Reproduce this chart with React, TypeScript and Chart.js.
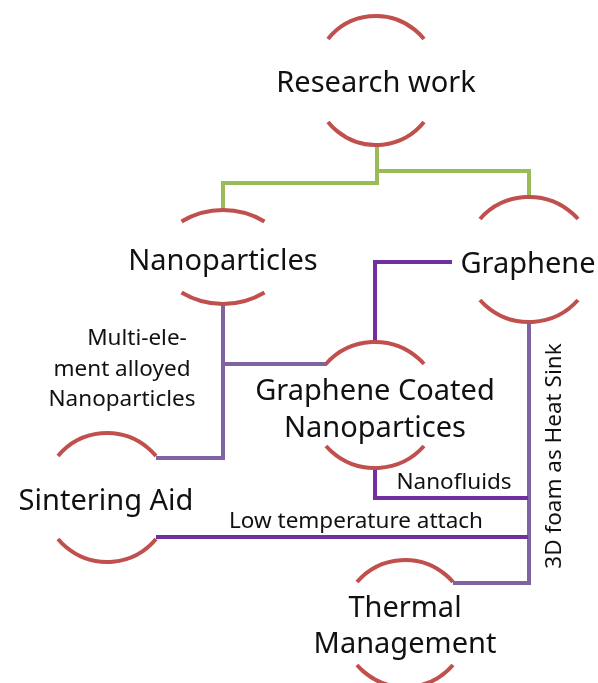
import React, { useEffect, useRef } from "react";
import { Chart, registerables } from "chart.js";

Chart.register(...registerables);

// Node data (diagram coordinates, same units as the axes)
const nodeLines: string[][] = [
  ["Research work"],
  ["Nanoparticles"],
  ["Graphene"],
  ["Graphene Coated", "Nanopartices"],
  ["Sintering Aid"],
  ["Thermal", "Management"],
];
const nodeX = [376, 223, 529, 375, 107, 405];
const nodeTextX = [376, 223, 528, 375, 106, 405];
const nodeTextY: number[][] = [[84], [262], [265], [392, 429], [502], [609, 645]];
const arcTopY = [16, 210, 197, 342, 433, 560];
const arcBottomY = [145, 304, 322, 468, 562, 687];
const arcHalfWidth = [48, 41.5, 49, 49, 49, 48];
const arcSag = [23, 11.5, 22, 22, 23, 22];

// Connectors
const greenLinks: number[][][] = [
  [[377, 145], [377, 183], [223, 183], [223, 210]],
  [[377, 171], [529, 171], [529, 197]],
];
const darkPurpleLinks: number[][][] = [
  [[452, 262], [375, 262], [375, 342]],
  [[375, 468], [375, 498], [528, 498]],
  [[156, 537], [528, 537]],
];
const lightPurpleLinks: number[][][] = [
  [[223, 304], [223, 458], [156, 458]],
  [[223, 364], [327, 364]],
  [[529, 322], [529, 583], [453, 583]],
];

// Edge labels
const edgeLabels = ["Multi-ele-", "ment alloyed", "Nanoparticles", "Nanofluids", "Low temperature attach", "3D foam as Heat Sink"];
const edgeLabelX = [137, 122, 122, 454, 356, 555];
const edgeLabelY = [339, 370, 400, 483, 522, 456];
const edgeLabelRotation = [0, 0, 0, 0, 0, -90];

const FONT = "'Noto Sans', 'DejaVu Sans', sans-serif";

export default function App() {
  const ref = useRef<HTMLCanvasElement | null>(null);
  useEffect(() => {
    if (!ref.current) return;
    const mk = (links: number[][][], color: string) =>
      links.map((pts) => ({
        type: "scatter" as const,
        data: pts.map(([x, y]) => ({ x, y })),
        showLine: true,
        borderColor: color,
        backgroundColor: color,
        borderWidth: 4,
        pointRadius: 0,
        borderJoinStyle: "miter" as const,
        borderCapStyle: "butt" as const,
        tension: 0,
      }));

    const diagramPlugin = {
      id: "diagram",
      afterDatasetsDraw(chart: any) {
        const ctx = chart.ctx as CanvasRenderingContext2D;
        const xs = chart.scales.x;
        const ys = chart.scales.y;
        const px = (v: number) => xs.getPixelForValue(v);
        const py = (v: number) => ys.getPixelForValue(v);
        ctx.save();
        // arcs
        ctx.strokeStyle = "#C0504D";
        ctx.lineWidth = 4;
        ctx.lineCap = "butt";
        for (let i = 0; i < nodeX.length; i++) {
          const cx = px(nodeX[i]);
          const c = Math.abs(px(nodeX[i] + arcHalfWidth[i]) - cx);
          const topY = py(arcTopY[i]);
          const botY = py(arcBottomY[i]);
          const s = Math.abs(py(arcTopY[i] + arcSag[i]) - topY);
          const r = (c * c + s * s) / (2 * s);
          const th = Math.asin(Math.min(1, c / r));
          ctx.beginPath();
          ctx.arc(cx, topY + r, r, -Math.PI / 2 - th, -Math.PI / 2 + th);
          ctx.stroke();
          ctx.beginPath();
          ctx.arc(cx, botY - r, r, Math.PI / 2 - th, Math.PI / 2 + th);
          ctx.stroke();
        }
        // node labels
        ctx.fillStyle = "#111111";
        ctx.textAlign = "center";
        ctx.textBaseline = "middle";
        ctx.font = `29px ${FONT}`;
        for (let i = 0; i < nodeLines.length; i++) {
          nodeLines[i].forEach((line, j) => {
            ctx.fillText(line, px(nodeTextX[i]), py(nodeTextY[i][j]));
          });
        }
        // edge labels
        ctx.font = `22.5px ${FONT}`;
        for (let i = 0; i < edgeLabels.length; i++) {
          ctx.save();
          ctx.translate(px(edgeLabelX[i]), py(edgeLabelY[i]));
          ctx.rotate((edgeLabelRotation[i] * Math.PI) / 180);
          ctx.fillText(edgeLabels[i], 0, 0);
          ctx.restore();
        }
        ctx.restore();
      },
    };

    const chart = new Chart(ref.current, {
      type: "scatter",
      data: {
        datasets: [
          ...mk(greenLinks, "#9BBB59"),
          ...mk(darkPurpleLinks, "#7030A0"),
          ...mk(lightPurpleLinks, "#8064A2"),
        ] as any,
      },
      options: {
        animation: false,
        responsive: false,
        maintainAspectRatio: false,
        layout: { padding: 0 },
        plugins: { legend: { display: false }, tooltip: { enabled: false } },
        scales: {
          x: { type: "linear", min: 0, max: 598, display: false },
          y: { type: "linear", min: 0, max: 683, reverse: true, display: false },
        },
      },
      plugins: [diagramPlugin],
    });
    return () => chart.destroy();
  }, []);

  return (
    <div style={{ position: "absolute", left: 0, top: 0, width: 598, height: 683, background: "#fff" }}>
      <canvas ref={ref} width={598} height={683} />
    </div>
  );
}
